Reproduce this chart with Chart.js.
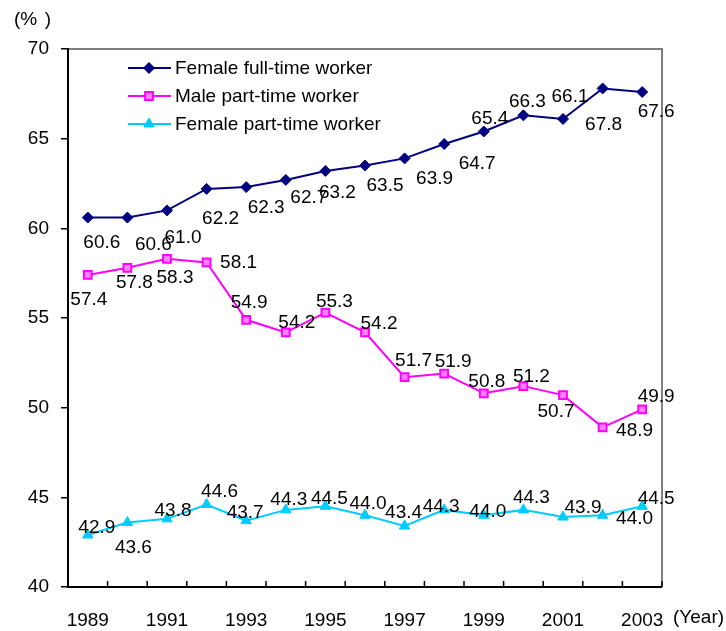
<!DOCTYPE html>
<html>
<head>
<meta charset="utf-8">
<script src="https://cdn.jsdelivr.net/npm/chart.js@4"></script>
<style>
  html, body { margin: 0; padding: 0; background: #fff; }
  #wrap { width: 726px; height: 631px; position: relative; }
</style>
</head>
<body>
<div id="wrap"><canvas id="chart" width="726" height="631"></canvas></div>
<script>
// ---- data ----
const years = ['1989','1990','1991','1992','1993','1994','1995','1996','1997','1998','1999','2000','2001','2002','2003'];
const femaleFullTime = [60.6, 60.6, 61.0, 62.2, 62.3, 62.7, 63.2, 63.5, 63.9, 64.7, 65.4, 66.3, 66.1, 67.8, 67.6];
const malePartTime   = [57.4, 57.8, 58.3, 58.1, 54.9, 54.2, 55.3, 54.2, 51.7, 51.9, 50.8, 51.2, 50.7, 48.9, 49.9];
const femalePartTime = [42.9, 43.6, 43.8, 44.6, 43.7, 44.3, 44.5, 44.0, 43.4, 44.3, 44.0, 44.3, 43.9, 44.0, 44.5];
const seriesNames = ['Female full-time worker', 'Male part-time worker', 'Female part-time worker'];
const yTicks = [40, 45, 50, 55, 60, 65, 70];

// label offsets (px from the point, text centre) as placed in the original
const fullOffsets = [[14,25],[26,27],[16,27],[14,30],[20,21],[23,18],[12,22],[20,20],[30,20],[33,20],[6,-13],[4,-14],[7,-22],[1,36],[14,20]];
const maleOffsets = [[1,25],[7,15],[8,19],[32,0],[3,-17],[11,-10],[9,-11],[14,-9],[9,-16],[9,-12],[3,-12],[8,-9],[-7,17],[32,3],[14,-13]];
const fpartOffsets = [[9,-7],[6,25],[6,-8],[13,-13],[-1,-8],[3,-10],[4,-8],[3,-12],[-1,-13],[-3,-3],[4,-4],[8,-12],[20,-9],[32,3],[14,-8]];

const FONT = '19px "Liberation Sans", Arial, sans-serif';
const NAVY = '#000080', MAGENTA = '#FF00FF', CYAN = '#00CCFF';

// ---- plugins ----
const decorations = {
  id: 'decorations',
  afterDraw(chart) {
    const ctx = chart.ctx;
    const a = chart.chartArea;
    const x = chart.scales.x;
    ctx.save();
    // top + right frame (grey)
    ctx.strokeStyle = '#808080';
    ctx.lineWidth = 2;
    ctx.beginPath();
    ctx.moveTo(a.left, a.top);
    ctx.lineTo(a.right, a.top);
    ctx.lineTo(a.right, a.bottom);
    ctx.stroke();
    // left + bottom axes (black)
    ctx.strokeStyle = '#000';
    ctx.beginPath();
    ctx.moveTo(a.left, a.top - 1);
    ctx.lineTo(a.left, a.bottom);
    ctx.lineTo(a.right, a.bottom);
    ctx.stroke();
    // inward ticks on the x axis, between categories
    ctx.lineWidth = 1.5;
    const half = (x.getPixelForValue(1) - x.getPixelForValue(0)) / 2;
    for (let i = 0; i < years.length; i++) {
      const px = x.getPixelForValue(i) + half;
      ctx.beginPath();
      ctx.moveTo(px, a.bottom);
      ctx.lineTo(px, a.bottom - 6);
      ctx.stroke();
    }
    // axis captions
    ctx.fillStyle = '#000';
    ctx.font = FONT;
    ctx.textBaseline = 'middle';
    ctx.textAlign = 'left';
    ctx.fillText('(%\u2009\u2009)', 14, 20);
    ctx.fillText('(Year)', 673, 618);

    // data labels
    const offs = [fullOffsets, maleOffsets, fpartOffsets];
    chart.data.datasets.forEach((ds, di) => {
      const meta = chart.getDatasetMeta(di);
      meta.data.forEach((pt, i) => {
        ctx.textAlign = 'center';
        ctx.fillText(ds.data[i].toFixed(1), pt.x + offs[di][i][0], pt.y + offs[di][i][1]);
      });
    });

    // legend inside the plot
    const rows = [68, 96, 124];
    chart.data.datasets.forEach((ds, di) => {
      const y = rows[di];
      ctx.strokeStyle = ds.borderColor;
      ctx.lineWidth = 2;
      ctx.beginPath();
      ctx.moveTo(128, y);
      ctx.lineTo(171, y);
      ctx.stroke();
      ctx.fillStyle = ds.pointBackgroundColor;
      ctx.strokeStyle = ds.pointBorderColor;
      ctx.lineWidth = ds.pointBorderWidth;
      Chart.helpers.drawPoint(ctx, {
        pointStyle: ds.pointStyle,
        radius: ds.pointRadius,
        borderWidth: ds.pointBorderWidth
      }, 149, y);
      ctx.fillStyle = '#000';
      ctx.textAlign = 'left';
      ctx.fillText(seriesNames[di], 175, y + 1);
    });
    ctx.restore();
  }
};

// ---- chart ----
const ctx = document.getElementById('chart').getContext('2d');
new Chart(ctx, {
  type: 'line',
  data: {
    labels: years,
    datasets: [
      {
        label: seriesNames[0], data: femaleFullTime,
        borderColor: NAVY, borderWidth: 2,
        pointStyle: 'rectRot', pointRadius: 5.5,
        pointBackgroundColor: NAVY, pointBorderColor: NAVY, pointBorderWidth: 1
      },
      {
        label: seriesNames[1], data: malePartTime,
        borderColor: MAGENTA, borderWidth: 2,
        pointStyle: 'rect', pointRadius: 5.5,
        pointBackgroundColor: '#FF80FF', pointBorderColor: MAGENTA, pointBorderWidth: 2
      },
      {
        label: seriesNames[2], data: femalePartTime,
        borderColor: CYAN, borderWidth: 2,
        pointStyle: 'triangle', pointRadius: 6,
        pointBackgroundColor: CYAN, pointBorderColor: CYAN, pointBorderWidth: 1
      }
    ]
  },
  options: {
    responsive: false,
    animation: false,
    layout: { padding: { left: 0, top: 49, right: 64, bottom: 0 } },
    plugins: { legend: { display: false }, tooltip: { enabled: false } },
    elements: { line: { tension: 0 } },
    scales: {
      x: {
        offset: true,
        grid: { display: false, drawTicks: false },
        border: { display: false },
        ticks: {
          autoSkip: false, maxRotation: 0, padding: 22,
          color: '#000', font: { family: '"Liberation Sans", Arial, sans-serif', size: 19 },
          callback: (v, i) => (i % 2 === 0 ? years[i] : '')
        },
        afterFit: s => { s.height = 44; }
      },
      y: {
        min: 40, max: 70,
        afterBuildTicks: s => { s.ticks = yTicks.map(v => ({ value: v })); },
        grid: { drawOnChartArea: false, drawTicks: true, tickLength: 7, color: '#000', lineWidth: 1.5 },
        border: { display: false },
        ticks: {
          padding: 12, color: '#000',
          font: { family: '"Liberation Sans", Arial, sans-serif', size: 19 }
        },
        afterFit: s => { s.width = 68; }
      }
    }
  },
  plugins: [decorations]
});
</script>
</body>
</html>
